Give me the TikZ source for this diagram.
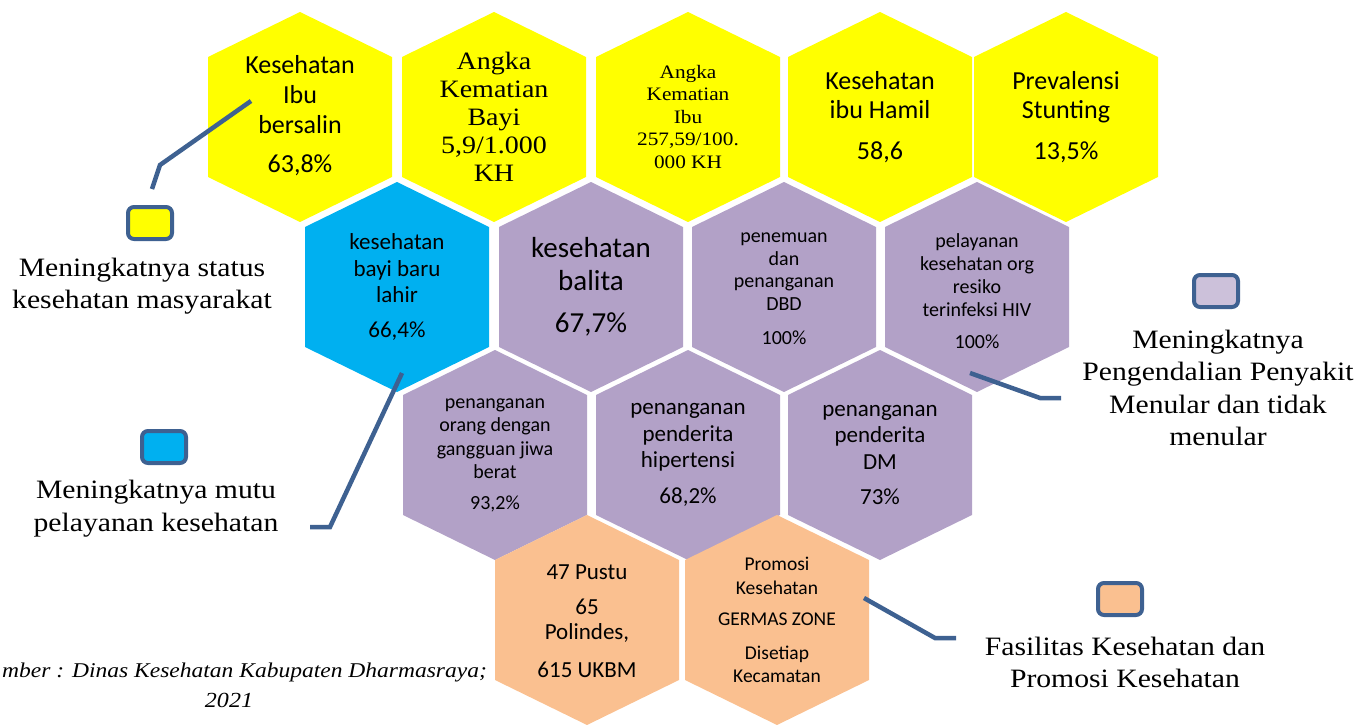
\documentclass[tikz,border=0pt]{standalone}
\usepackage{fontspec}
\setmainfont{Carlito}
\newfontfamily\camb[FakeStretch=1.12]{Liberation Serif}
\definecolor{hyel}{HTML}{FFFF00}
\definecolor{hblue}{HTML}{00B0F0}
\definecolor{hpurp}{HTML}{B2A1C7}
\definecolor{horng}{HTML}{FAC090}
\definecolor{lpurp}{HTML}{CCC1DA}
\definecolor{lineblue}{HTML}{3E6191}
\newcommand\fs[2]{\fontsize{#1}{#2}\selectfont}
\newcommand\hexa[3]{\fill[#3] (#1,#2-105) -- (#1+92,#2-60) -- (#1+92,#2+60) -- (#1,#2+105) -- (#1-92,#2+60) -- (#1-92,#2-60) -- cycle;}
\tikzset{
  lbl/.style={align=center, inner sep=0pt, text=black},
  legbox/.style={draw=lineblue, line width=4pt, rounded corners=6pt, minimum width=44pt, minimum height=32pt, inner sep=0pt},
  conn/.style={draw=lineblue, line width=4.5pt},
}
\begin{document}
\begin{tikzpicture}[x=1pt,y=-1pt]
\useasboundingbox (0,0) rectangle (1369,725);
\clip (0,0) rectangle (1369,725);
% row 1
\hexa{300}{117}{hyel}
\hexa{494}{117}{hyel}
\hexa{688}{117}{hyel}
\hexa{880}{117}{hyel}
\hexa{1066}{117}{hyel}
% row 2
\hexa{397}{287}{hblue}
\hexa{591}{287}{hpurp}
\hexa{784}{287}{hpurp}
\hexa{977}{287}{hpurp}
% row 3
\hexa{495}{455}{hpurp}
\hexa{688}{455}{hpurp}
\hexa{880}{455}{hpurp}
% row 4
\hexa{587}{620}{horng}
\hexa{777}{620}{horng}
% texts row 1
\node[lbl, font=\fs{26}{30}] (t1) at (300,116) {Kesehatan\\Ibu\\bersalin\\[9pt]63,8\%};
\node[lbl, font=\camb\fs{25}{28}] (t2) at (494,117) {Angka\\Kematian\\Bayi\\5,9/1.000\\KH};
\node[lbl, font=\camb\fs{19}{22.5}] (t3) at (688,117) {Angka\\Kematian\\Ibu\\257,59/100.\\000 KH};
\node[lbl, font=\fs{26}{29}] (t4) at (880,117) {Kesehatan\\ibu Hamil\\[12pt]58,6};
\node[lbl, font=\fs{26}{29}] (t5) at (1066,117) {Prevalensi\\Stunting\\[12pt]13,5\%};
% texts row 2
\node[lbl, font=\fs{23}{26.5}] (t6) at (397,287) {kesehatan\\bayi baru\\lahir\\[8pt]66,4\%};
\node[lbl, font=\fs{29}{33}] (t7) at (591,287) {kesehatan\\balita\\[9pt]67,7\%};
\node[lbl, font=\fs{20}{22.5}] (t8) at (784,289) {penemuan\\dan\\penanganan\\DBD\\[12pt]100\%};
\node[lbl, font=\fs{20}{23}] (t9) at (977,291) {pelayanan\\kesehatan org\\resiko\\terinfeksi HIV\\[9pt]100\%};
% texts row 3
\node[lbl, font=\fs{20}{23.5}] (t10) at (495,455) {penanganan\\orang dengan\\gangguan jiwa\\berat\\[7pt]93,2\%};
\node[lbl, font=\fs{23}{26.5}] (t11) at (688,455) {penanganan\\penderita\\hipertensi\\[9pt]68,2\%};
\node[lbl, font=\fs{23}{26.5}] (t12) at (880,455) {penanganan\\penderita\\DM\\[9pt]73\%};
% texts row 4
\node[lbl, font=\fs{23}{25}] (t13) at (587,621) {47 Pustu\\[10pt]65\\Polindes,\\[13pt]615 UKBM};
\node[lbl, font=\fs{19.5}{23.5}] (t14) at (777,620) {Promosi\\Kesehatan\\[8pt]GERMAS ZONE\\[10pt]Disetiap\\Kecamatan};
% legends
\node[legbox, fill=hyel] (b1) at (150,223) {};
\node[lbl, font=\camb\fs{26.5}{32}] (l1) at (142,286) {Meningkatnya status\\kesehatan masyarakat};
\node[legbox, fill=hblue] (b2) at (164,447) {};
\node[lbl, font=\camb\fs{26.5}{33}] (l2) at (156,509) {Meningkatnya mutu\\pelayanan kesehatan};
\node[legbox, fill=lpurp] (b3) at (1216,291) {};
\node[lbl, font=\camb\fs{26.5}{32.5}] (l3) at (1218,388) {Meningkatnya\\Pengendalian Penyakit\\Menular dan tidak\\menular};
\node[legbox, fill=horng] (b4) at (1120,599) {};
\node[lbl, font=\camb\fs{26.5}{32}] (l4) at (1125,662) {Fasilitas Kesehatan dan\\Promosi Kesehatan};
% source
\node[lbl, font=\camb\itshape\fs{21}{26}, anchor=west] (s1) at (2,672) {mber : Dinas Kesehatan Kabupaten Dharmasraya;};
\node[lbl, font=\camb\itshape\fs{21.5}{26}] (s2) at (229,700) {2021};
% connectors
\coordinate (c1s) at (251,101);
\coordinate (c1k) at (160,165);
\coordinate (c1e) at (152,189);
\draw[conn] (c1s) -- (c1k) -- (c1e);
\coordinate (c2s) at (402,373);
\coordinate (c2k) at (330,527);
\coordinate (c2e) at (310,527);
\draw[conn] (c2s) -- (c2k) -- (c2e);
\coordinate (c3s) at (970,373);
\coordinate (c3k) at (1040,398);
\coordinate (c3e) at (1061,398);
\draw[conn] (c3s) -- (c3k) -- (c3e);
\coordinate (c4s) at (864,598);
\coordinate (c4k) at (935,638);
\coordinate (c4e) at (956,638);
\draw[conn] (c4s) -- (c4k) -- (c4e);
\end{tikzpicture}
\end{document}
